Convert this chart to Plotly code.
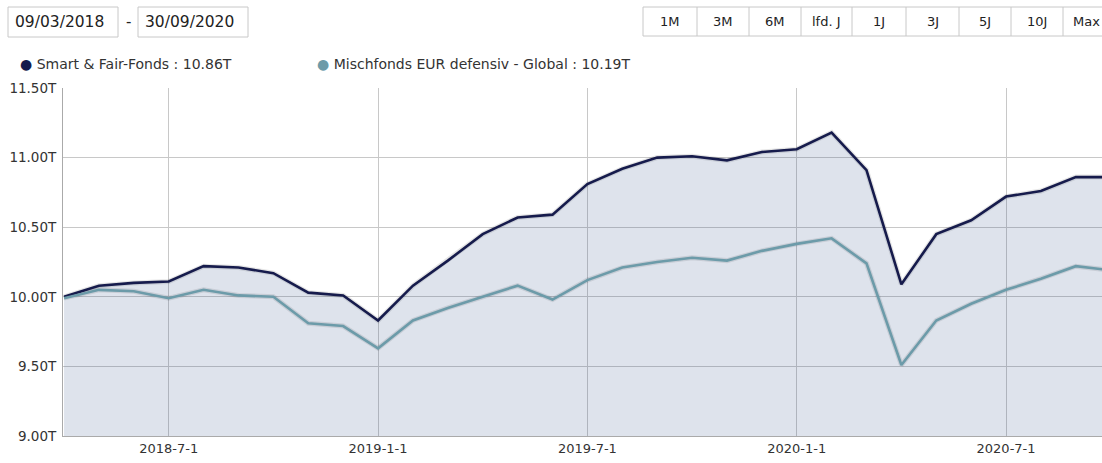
import plotly.graph_objects as go

# ---------------- data ----------------
dates = [
    "2018-04-01", "2018-05-01", "2018-06-01", "2018-07-01", "2018-08-01", "2018-09-01",
    "2018-10-01", "2018-11-01", "2018-12-01", "2019-01-01", "2019-02-01", "2019-03-01",
    "2019-04-01", "2019-05-01", "2019-06-01", "2019-07-01", "2019-08-01", "2019-09-01",
    "2019-10-01", "2019-11-01", "2019-12-01", "2020-01-01", "2020-02-01", "2020-03-01",
    "2020-04-01", "2020-05-01", "2020-06-01", "2020-07-01", "2020-08-01", "2020-09-01",
    "2020-09-30",
]
smart_fair = [
    10.00, 10.08, 10.10, 10.11, 10.22, 10.21, 10.17, 10.03, 10.01, 9.83, 10.08, 10.26,
    10.45, 10.57, 10.59, 10.81, 10.92, 11.00, 11.01, 10.98, 11.04, 11.06, 11.18, 10.91,
    10.09, 10.45, 10.55, 10.72, 10.76, 10.86, 10.86,
]
mischfonds = [
    9.99, 10.05, 10.04, 9.99, 10.05, 10.01, 10.00, 9.81, 9.79, 9.63, 9.83, 9.92,
    10.00, 10.08, 9.98, 10.12, 10.21, 10.25, 10.28, 10.26, 10.33, 10.38, 10.42, 10.24,
    9.51, 9.83, 9.95, 10.05, 10.13, 10.22, 10.19,
]
series_names = ["Smart & Fair-Fonds", "Mischfonds EUR defensiv - Global"]
last_values = ["10.86T", "10.19T"]

y_tickvals = [9.0, 9.5, 10.0, 10.5, 11.0, 11.5]
y_ticktext = ["9.00T", "9.50T", "10.00T", "10.50T", "11.00T", "11.50T"]
x_tickvals = ["2018-07-01", "2019-01-01", "2019-07-01", "2020-01-01", "2020-07-01"]
x_ticktext = ["2018-7-1", "2019-1-1", "2019-7-1", "2020-1-1", "2020-7-1"]

date_from = "09/03/2018"
date_to = "30/09/2020"
buttons = ["1M", "3M", "6M", "lfd. J", "1J", "3J", "5J", "10J", "Max"]

# ---------------- styling ----------------
NAVY = "#161b4c"
TEAL = "#6c9ba9"
FONT = "DejaVu Sans"
TXT = "#333333"

W, H = 1102, 463
ML, MR, MT, MB = 63, 0, 88, 27
PW, PH = W - ML - MR, H - MT - MB


def px(x):
    return (x - ML) / PW


def py(y):
    return (H - MB - y) / PH


fig = go.Figure()

# shadows
for vals in (smart_fair, mischfonds):
    fig.add_trace(go.Scatter(
        x=dates, y=vals, mode="lines",
        line=dict(color="rgba(0,0,0,0.10)", width=5),
        hoverinfo="skip", showlegend=False,
    ))

fig.add_trace(go.Scatter(
    x=dates, y=smart_fair, mode="lines", name=series_names[0],
    line=dict(color=NAVY, width=2.6),
    fill="tozeroy", fillcolor="rgba(35,65,125,0.15)",
    showlegend=False,
))
fig.add_trace(go.Scatter(
    x=dates, y=mischfonds, mode="lines", name=series_names[1],
    line=dict(color=TEAL, width=2.6),
    showlegend=False,
))

fig.update_xaxes(
    type="category", range=[-0.03, 29.75],
    tickvals=x_tickvals, ticktext=x_ticktext,
    showgrid=True, gridcolor="#c8c8c8", gridwidth=1,
    showline=True, linecolor="#aaaaaa", linewidth=1,
    ticks="", tickfont=dict(family=FONT, size=13, color=TXT),
    zeroline=False,
)
fig.update_yaxes(
    range=[9.0, 11.5], tickvals=y_tickvals, ticktext=y_ticktext,
    showgrid=True, gridcolor="#c8c8c8", gridwidth=1,
    showline=True, linecolor="#aaaaaa", linewidth=1,
    ticks="", tickfont=dict(family=FONT, size=13.5, color=TXT),
    zeroline=False, ticklabelstandoff=3,
)

shapes = []
annotations = []

# date boxes
for (x0, x1, tx, txt) in [(8, 118, 13, date_from), (138, 248, 143, date_to)]:
    shapes.append(dict(type="rect", xref="paper", yref="paper",
                       x0=px(x0), x1=px(x1), y0=py(37), y1=py(7),
                       line=dict(color="#c8c8c8", width=1), fillcolor="white"))
    annotations.append(dict(xref="paper", yref="paper", x=px(tx), y=py(22),
                            xanchor="left", yanchor="middle", showarrow=False,
                            text=txt, font=dict(family=FONT, size=15.5, color="#222")))
annotations.append(dict(xref="paper", yref="paper", x=px(128), y=py(22),
                        xanchor="center", yanchor="middle", showarrow=False,
                        text="-", font=dict(family=FONT, size=15, color="#222")))

# buttons bar
edges = [643, 697, 749, 801, 852, 906, 959, 1011, 1063, 1115]
shapes.append(dict(type="rect", xref="paper", yref="paper",
                   x0=px(643), x1=px(1120), y0=py(36), y1=py(7),
                   line=dict(color="#c8c8c8", width=1), fillcolor="white"))
for e in edges[1:-1]:
    shapes.append(dict(type="line", xref="paper", yref="paper",
                       x0=px(e), x1=px(e), y0=py(36), y1=py(7),
                       line=dict(color="#c8c8c8", width=1)))
for i, b in enumerate(buttons):
    cx = (edges[i] + edges[i + 1]) / 2
    if b == "Max":
        annotations.append(dict(xref="paper", yref="paper", x=px(1071), y=py(22),
                                xanchor="left", yanchor="middle", showarrow=False,
                                text=b, font=dict(family=FONT, size=13, color="#222")))
    else:
        annotations.append(dict(xref="paper", yref="paper", x=px(cx), y=py(22),
                                xanchor="center", yanchor="middle", showarrow=False,
                                text=b, font=dict(family=FONT, size=13, color="#222")))

# legend
leg = [(25, NAVY, series_names[0], last_values[0]),
       (322, TEAL, series_names[1], last_values[1])]
for (x, col, name, v) in leg:
    annotations.append(dict(xref="paper", yref="paper", x=px(x - 7), y=py(64),
                            xanchor="left", yanchor="middle", showarrow=False,
                            text=f"<span style='color:{col}'>●</span> {name} : {v}",
                            font=dict(family=FONT, size=14, color=TXT)))

fig.update_layout(
    width=W, height=H, autosize=False,
    margin=dict(l=ML, r=MR, t=MT, b=MB, pad=0),
    paper_bgcolor="white", plot_bgcolor="white",
    shapes=shapes, annotations=annotations,
    showlegend=False,
)

fig.write_html(
    "out.html",
    config={"displayModeBar": False},
    post_script="document.body.style.margin='0px';"
                "document.documentElement.style.overflow='hidden';",
)
